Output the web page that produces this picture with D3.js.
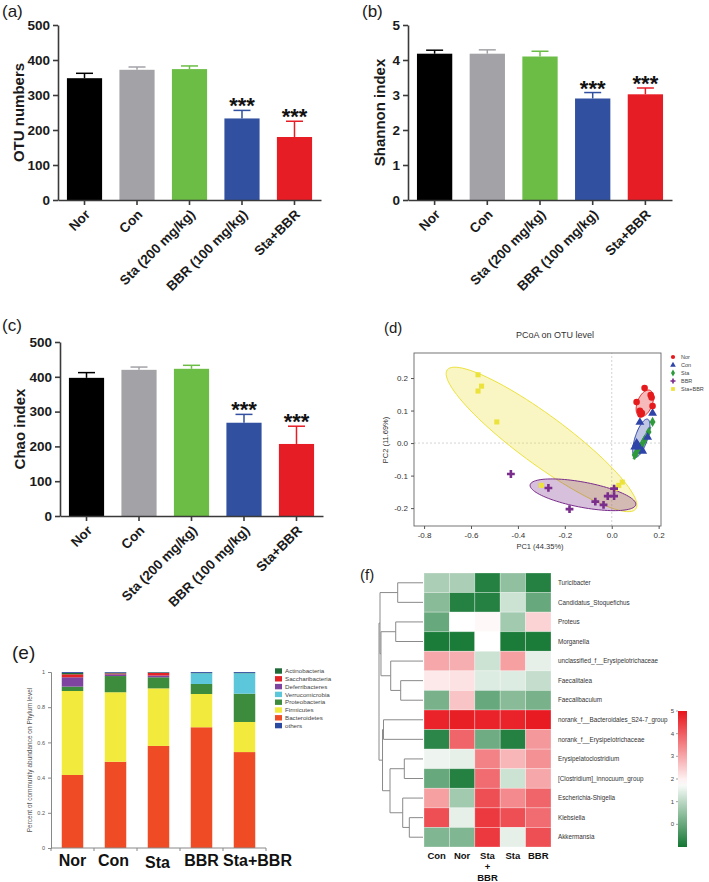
<!DOCTYPE html>
<html><head><meta charset="utf-8">
<script src="https://cdn.jsdelivr.net/npm/d3@7"></script>
<style>body{margin:0;background:#fff}svg{display:block}text{font-family:"Liberation Sans",Arial,sans-serif}</style>
</head><body><svg id="c" width="709" height="882"></svg>
<script>
// ---------- DATA ----------
const groups = ["Nor","Con","Sta (200 mg/kg)","BBR (100 mg/kg)","Sta+BBR"];
const barColors = ["#000000","#a3a2a7","#6cbd45","#3150a0","#e71d25"];
const otuMean = [348,372,374,233,180];
const otuErr = [14,8,9,23,45];
const shannonMean = [4.18,4.18,4.10,2.90,3.02];
const shannonErr = [0.10,0.11,0.15,0.17,0.18];
const chaoMean = [397,420,423,268,207];
const chaoErr = [15,8,10,24,51];
const sig = ["","","","***","***"];
const otuTicks = [0,100,200,300,400,500];
const shannonTicks = [0,1,2,3,4,5];
const chaoTicks = [0,100,200,300,400,500];

const pcoaGroups = ["Nor","Con","Sta","BBR","Sta+BBR"];
const pcoaColors = ["#e41a1c","#2f44a8","#2e9a3c","#7a2d8c","#ece23c"];
const pcoaNor = [[0.14,0.169],[0.166,0.148],[0.17,0.14],[0.106,0.126],[0.174,0.114],[0.12,0.099],[0.128,0.092],[0.123,0.088]];
const pcoaCon = [[0.174,0.092],[0.12,0.064],[0.153,0.018],[0.106,0.0],[0.115,-0.012],[0.132,-0.025],[0.098,-0.012],[0.11,-0.005]];
const pcoaSta = [[0.174,0.065],[0.157,0.034],[0.14,0.01],[0.128,-0.006],[0.11,-0.015],[0.098,-0.037],[0.12,-0.02],[0.105,-0.03]];
const pcoaBBR = [[-0.43,-0.095],[-0.27,-0.138],[-0.18,-0.203],[-0.07,-0.18],[-0.035,-0.19],[-0.017,-0.163],[0.01,-0.163],[0.01,-0.14]];
const pcoaStaBBR = [[-0.57,0.21],[-0.555,0.175],[-0.57,0.16],[-0.49,0.065],[-0.3,-0.13],[0.015,-0.14],[0.03,-0.13],[0.045,-0.12]];
const pcoaXTicks = [-0.8,-0.6,-0.4,-0.2,0.0,0.2];
const pcoaYTicks = [-0.2,-0.1,0.0,0.1,0.2];
const pcoaXLim = [-0.843,0.21];
const pcoaYLim = [-0.255,0.277];

const phylumGroups = ["Nor","Con","Sta","BBR","Sta+BBR"];
const bacteroidetes   = [0.415,0.490,0.580,0.686,0.545];
const firmicutes      = [0.477,0.395,0.327,0.189,0.171];
const proteobacteria  = [0.025,0.092,0.063,0.057,0.161];
const verrucomicrobia = [0.000,0.000,0.000,0.061,0.116];
const deferribacteres = [0.053,0.010,0.010,0.000,0.000];
const saccharibacteria= [0.017,0.005,0.015,0.000,0.000];
const actinobacteria  = [0.008,0.004,0.003,0.002,0.002];
const others          = [0.005,0.004,0.002,0.005,0.005];
const phylumTicks = [0,0.2,0.4,0.6,0.8,1];
const legendPhyla = ["Actinobacteria","Saccharibacteria","Deferribacteres","Verrucomicrobia","Proteobacteria","Firmicutes","Bacteroidetes","others"];

const heatCols = ["Con","Nor","Sta+BBR","Sta","BBR"];
const heatRows = ["Turicibacter","Candidatus_Stoquefichus","Proteus","Morganella","unclassified_f__Erysipelotrichaceae","Faecalitalea","Faecalibaculum","norank_f__Bacteroidales_S24-7_group","norank_f__Erysipelotrichaceae","Erysipelatoclostridium","[Clostridium]_innocuum_group","Escherichia-Shigella","Klebsiella","Akkermansia"];
const heatValues = [
  [0.8,0.8,-0.8,0.5,-0.8],
  [0.4,-0.8,-0.8,1.2,0.0],
  [0.0,1.8,1.9,0.7,2.4],
  [-0.9,-0.9,1.8,-0.9,-0.9],
  [3.0,2.9,1.2,3.1,1.5],
  [2.1,2.2,1.4,1.4,1.1],
  [0.2,2.6,0.0,0.4,0.2],
  [4.8,4.85,4.8,4.8,4.9],
  [-0.7,3.9,0.1,-0.8,3.2],
  [1.6,1.5,3.5,2.8,3.3],
  [0.0,-0.8,3.8,1.2,3.0],
  [3.1,0.7,4.2,3.4,3.9],
  [4.2,1.5,4.5,4.2,3.8],
  [0.3,0.3,4.5,1.5,4.2]
];
const heatTicks = [0,1,2,3,4,5];
// row dendrogram (leaf = row index, h = merge height)
const dendro = {h:1.0, children:[
  {h:0.977, children:[
    {h:0.575, children:[{leaf:0},{leaf:1}]},
    {h:0.955, children:[
      {h:0.62, children:[{leaf:2},{leaf:3}]},
      {h:0.734, children:[{leaf:4},{h:0.507, children:[{leaf:5},{leaf:6}]}]}
    ]}
  ]},
  {h:0.92, children:[
    {h:0.898, children:[{leaf:7},{leaf:8}]},
    {h:0.75, children:[
      {h:0.425, children:[{leaf:9},{leaf:10}]},
      {h:0.461, children:[{leaf:11},{h:0.311, children:[{leaf:12},{leaf:13}]}]}
    ]}
  ]}
]};

// ---------- DRAW ----------
const svg = d3.select("#c");
svg.append("rect").attr("width",709).attr("height",882).attr("fill","#fff");

function label(t,x,y,size){
  svg.append("text").attr("x",x).attr("y",y).attr("font-size",size).attr("fill","#1a1a1a").text(t);
}

function barPanel(o){
  const g = svg.append("g");
  const x = d3.scaleBand().domain(groups).range([o.x0,o.x1]).paddingInner(0.33).paddingOuter(0.17);
  const y = d3.scaleLinear().domain([0,o.max]).range([o.yZero,o.yTop]);
  const bw = x.bandwidth();
  groups.forEach((d,i)=>{
    const cx = x(d)+bw/2, top = y(o.means[i]+o.errs[i]);
    g.append("line").attr("x1",cx).attr("x2",cx).attr("y1",y(o.means[i])).attr("y2",top)
      .attr("stroke",barColors[i]).attr("stroke-width",1.5);
    g.append("line").attr("x1",cx-8.5).attr("x2",cx+8.5).attr("y1",top).attr("y2",top)
      .attr("stroke",barColors[i]).attr("stroke-width",1.5);
    if(sig[i]) g.append("text").attr("x",cx).attr("y",top+3).attr("text-anchor","middle")
      .attr("font-size",22).attr("font-weight","bold").attr("fill","#111").text(sig[i]);
  });
  g.selectAll("rect.b").data(groups).join("rect").attr("class","b")
    .attr("x",d=>x(d)).attr("width",bw)
    .attr("y",(d,i)=>y(o.means[i])).attr("height",(d,i)=>y(0)-y(o.means[i]))
    .attr("fill",(d,i)=>barColors[i]);
  const ya = g.append("g").attr("transform",`translate(${o.x0},0)`)
    .call(d3.axisLeft(y).tickValues(o.ticks).tickSize(5).tickSizeOuter(0).tickPadding(3).tickFormat(d3.format("d")));
  const xa = g.append("g").attr("transform",`translate(0,${o.yZero})`)
    .call(d3.axisBottom(x).tickSize(5).tickSizeOuter(0));
  [ya,xa].forEach(a=>{
    a.select(".domain").attr("stroke","#3a3a3a").attr("stroke-width",1.6);
    a.selectAll(".tick line").attr("stroke","#3a3a3a").attr("stroke-width",1.6);
    a.selectAll("text").attr("font-size",13.5).attr("font-weight","bold").attr("fill","#1a1a1a")
      .attr("font-family",'"Liberation Sans",Arial,sans-serif');
  });
  xa.selectAll(".tick text").attr("text-anchor","end").attr("x",0).attr("y",0).attr("dy","0.35em")
    .attr("transform","translate(3,12) rotate(-45)");
  g.append("text").attr("transform",`translate(${o.titleX},${(o.yZero+o.yTop)/2}) rotate(-90)`)
    .attr("text-anchor","middle").attr("font-size",15).attr("font-weight","bold").attr("fill","#1a1a1a").text(o.title);
}

label("(a)",2,17,17);
barPanel({x0:58,x1:321,yZero:200,yTop:25,max:500,ticks:otuTicks,means:otuMean,errs:otuErr,title:"OTU numbers",titleX:24});
label("(b)",362,17,17);
barPanel({x0:408,x1:672,yZero:200,yTop:25,max:5,ticks:shannonTicks,means:shannonMean,errs:shannonErr,title:"Shannon index",titleX:385});
label("(c)",2,331,17);
barPanel({x0:60,x1:323,yZero:516,yTop:342,max:500,ticks:chaoTicks,means:chaoMean,errs:chaoErr,title:"Chao index",titleX:25});

// ---------- (d) PCoA ----------
label("(d)",384,333,15);
(function(){
  const g = svg.append("g");
  const x = d3.scaleLinear().domain(pcoaXLim).range([414,661]);
  const y = d3.scaleLinear().domain(pcoaYLim).range([526,353]);
  g.append("line").attr("x1",x(0)).attr("x2",x(0)).attr("y1",y(pcoaYLim[0])).attr("y2",y(pcoaYLim[1]))
    .attr("stroke","#c8c8c8").attr("stroke-dasharray","2,2").attr("stroke-width",0.8);
  g.append("line").attr("y1",y(0)).attr("y2",y(0)).attr("x1",x(pcoaXLim[0])).attr("x2",x(pcoaXLim[1]))
    .attr("stroke","#c8c8c8").attr("stroke-dasharray","2,2").attr("stroke-width",0.8);
  const sets = [pcoaNor,pcoaCon,pcoaSta,pcoaBBR,pcoaStaBBR];
  const drawOrder = [4,3,2,1,0];
  const k = 1.42;
  drawOrder.forEach(i=>{
    const pts = sets[i], n = pts.length;
    const mx = d3.mean(pts,p=>p[0]), my = d3.mean(pts,p=>p[1]);
    let sxx=0,syy=0,sxy=0;
    pts.forEach(p=>{sxx+=(p[0]-mx)**2; syy+=(p[1]-my)**2; sxy+=(p[0]-mx)*(p[1]-my);});
    sxx/=n-1; syy/=n-1; sxy/=n-1;
    const tr=sxx+syy, det=sxx*syy-sxy*sxy, disc=Math.sqrt(tr*tr/4-det);
    const l1=tr/2+disc, l2=Math.max(tr/2-disc,0);
    let v1=[sxy, l1-sxx]; if(Math.abs(sxy)<1e-12) v1 = sxx>=syy?[1,0]:[0,1];
    const nv=Math.hypot(v1[0],v1[1]); v1=[v1[0]/nv,v1[1]/nv]; const v2=[-v1[1],v1[0]];
    const ring = d3.range(0,101).map(j=>{
      const t=j/100*2*Math.PI, a=k*Math.sqrt(l1)*Math.cos(t), b=k*Math.sqrt(l2)*Math.sin(t);
      return [x(mx+a*v1[0]+b*v2[0]), y(my+a*v1[1]+b*v2[1])];
    });
    g.append("path").attr("d",d3.line()(ring)+"Z").attr("fill",pcoaColors[i]).attr("fill-opacity",0.3)
      .attr("stroke",pcoaColors[i]).attr("stroke-width",1);
  });
  const syms = [d3.symbolCircle,d3.symbolTriangle,d3.symbolDiamond,d3.symbolCross,d3.symbolSquare];
  const sizes = [34,34,30,34,26];
  drawOrder.forEach(i=>{
    g.selectAll(null).data(sets[i]).join("path")
      .attr("transform",p=>`translate(${x(p[0])},${y(p[1])})`)
      .attr("d",d3.symbol(syms[i],sizes[i])).attr("fill",pcoaColors[i]);
  });
  g.append("rect").attr("x",414).attr("y",353).attr("width",247).attr("height",173)
    .attr("fill","none").attr("stroke","#666").attr("stroke-width",0.9);
  const xa = g.append("g").attr("transform","translate(0,526)").call(d3.axisBottom(x).tickValues(pcoaXTicks).tickSize(3).tickFormat(d3.format(".1f")));
  const ya = g.append("g").attr("transform","translate(414,0)").call(d3.axisLeft(y).tickValues(pcoaYTicks).tickSize(3).tickFormat(d3.format(".1f")));
  [xa,ya].forEach(a=>{
    a.select(".domain").remove();
    a.selectAll(".tick line").attr("stroke","#555");
    a.selectAll("text").attr("font-size",8).attr("fill","#333").attr("font-family",'"Liberation Sans",Arial,sans-serif');
  });
  xa.selectAll("text").text(d=>d3.format(".1f")(d).replace("−","-"));
  ya.selectAll("text").text(d=>d3.format(".1f")(d).replace("−","-"));
  svg.append("text").attr("x",540).attr("y",549).attr("text-anchor","middle").attr("font-size",7.5).attr("fill","#333").text("PC1 (44.35%)");
  svg.append("text").attr("transform","translate(388,440) rotate(-90)").attr("text-anchor","middle").attr("font-size",7.5).attr("fill","#333").text("PC2 (11.69%)");
  svg.append("text").attr("x",555).attr("y",338).attr("text-anchor","middle").attr("font-size",9).attr("fill","#333").text("PCoA on OTU level");
  pcoaGroups.forEach((gname,i)=>{
    const ly = 357+i*8;
    svg.append("path").attr("transform",`translate(673,${ly})`).attr("d",d3.symbol(syms[i],14)).attr("fill",pcoaColors[i]);
    svg.append("text").attr("x",681).attr("y",ly).attr("dy","0.35em").attr("font-size",5.5).attr("fill","#444").text(gname);
  });
})();

// ---------- (e) stacked bars ----------
label("(e)",12,659,19);
(function(){
  const g = svg.append("g");
  const keys = ["Bacteroidetes","Firmicutes","Proteobacteria","Verrucomicrobia","Deferribacteres","Saccharibacteria","Actinobacteria","others"];
  const arrs = [bacteroidetes,firmicutes,proteobacteria,verrucomicrobia,deferribacteres,saccharibacteria,actinobacteria,others];
  const colors = {Bacteroidetes:"#ef4b24",Firmicutes:"#f2ea3c",Proteobacteria:"#3d8c3d",Verrucomicrobia:"#5cc7da",
    Deferribacteres:"#7e44a0",Saccharibacteria:"#e52327",Actinobacteria:"#1f6a37",others:"#2b4aa2"};
  const rows = phylumGroups.map((gr,i)=>{const r={group:gr}; keys.forEach((k,j)=>r[k]=arrs[j][i]); return r;});
  const stack = d3.stack().keys(keys)(rows);
  const x = d3.scaleBand().domain(phylumGroups).range([51,266]).paddingInner(0.5).paddingOuter(0.25);
  const y = d3.scaleLinear().domain([0,1]).range([848,672]);
  stack.forEach(s=>{
    g.selectAll(null).data(s).join("rect").attr("x",d=>x(d.data.group)).attr("width",x.bandwidth())
      .attr("y",d=>y(d[1])).attr("height",d=>Math.max(0,y(d[0])-y(d[1]))).attr("fill",colors[s.key]);
  });
  const ya = g.append("g").attr("transform","translate(51,0)").call(d3.axisLeft(y).tickValues(phylumTicks).tickSize(3).tickFormat(d=>String(d)));
  ya.select(".domain").attr("stroke","#888");
  ya.selectAll(".tick line").attr("stroke","#888");
  ya.selectAll("text").attr("font-size",5.5).attr("fill","#555").attr("font-family",'"Liberation Sans",Arial,sans-serif');
  g.append("line").attr("x1",51).attr("x2",266).attr("y1",848).attr("y2",848).attr("stroke","#888");
  const step = x.step();
  d3.range(phylumGroups.length+1).forEach(i=>{
    const tx = 51 + i*step;
    g.append("line").attr("x1",tx).attr("x2",tx).attr("y1",848).attr("y2",851).attr("stroke","#888");
  });
  const lblShift = [0,-2,-1,0,13];
  phylumGroups.forEach((gr,i)=>{
    g.append("text").attr("x",x(gr)+x.bandwidth()/2+lblShift[i]).attr("y",i===2?868:866).attr("text-anchor","middle")
      .attr("font-size",16).attr("font-weight","bold").attr("fill","#111").text(gr);
  });
  g.append("text").attr("transform","translate(32,760) rotate(-90)").attr("text-anchor","middle")
    .attr("font-size",6.5).attr("fill","#555").text("Percent of community abundance on Phylum level");
  legendPhyla.forEach((p,i)=>{
    const ly = 671 + i*7.8;
    g.append("rect").attr("x",275).attr("y",ly-2.7).attr("width",7).attr("height",5.4).attr("fill",colors[p]);
    g.append("text").attr("x",285).attr("y",ly).attr("dy","0.35em").attr("font-size",6.2).attr("fill","#444").text(p);
  });
})();

// ---------- (f) heatmap ----------
label("(f)",360,580,15);
(function(){
  const g = svg.append("g");
  const x = d3.scaleBand().domain(heatCols).range([424,551]);
  const y = d3.scaleBand().domain(heatRows).range([573,847]);
  const color = d3.scaleLinear().domain([-1,1.8,5]).range(["#137733","#ffffff","#e8141b"]);
  heatRows.forEach((r,i)=>{
    heatCols.forEach((c,j)=>{
      g.append("rect").attr("x",x(c)).attr("y",y(r)).attr("width",x.bandwidth()).attr("height",y.bandwidth())
        .attr("fill",color(heatValues[i][j])).attr("stroke","#ffffff").attr("stroke-opacity",0.35).attr("stroke-width",0.8);
    });
    g.append("text").attr("x",558).attr("y",y(r)+y.bandwidth()/2).attr("dy","0.35em").attr("font-size",6.3).attr("fill","#333").text(r);
  });
  heatCols.forEach(c=>{
    const cx = x(c)+x.bandwidth()/2;
    const parts = c==="Sta+BBR" ? ["Sta","+","BBR"] : [c];
    parts.forEach((p,k)=>{
      g.append("text").attr("x",cx).attr("y",859+k*11).attr("text-anchor","middle").attr("font-size",9.5)
        .attr("font-weight","bold").attr("fill","#111").text(p);
    });
  });
  // dendrogram
  const root = d3.hierarchy(dendro);
  const hx = d3.scaleLinear().domain([0,1]).range([423,379]);
  root.eachAfter(n=>{
    if(n.data.leaf!==undefined){ n.py = y(heatRows[n.data.leaf])+y.bandwidth()/2; n.px = hx(0); }
    else { n.py = (n.children[0].py + n.children[n.children.length-1].py)/2; n.px = hx(n.data.h); }
  });
  const lines = [];
  root.each(n=>{
    if(!n.children) return;
    lines.push([[n.px,n.children[0].py],[n.px,n.children[n.children.length-1].py]]);
    n.children.forEach(ch=>lines.push([[n.px,ch.py],[ch.px,ch.py]]));
  });
  g.selectAll(null).data(lines).join("path").attr("d",d=>d3.line()(d)).attr("stroke","#8a8a8a").attr("stroke-width",1).attr("fill","none");
  // colour legend
  const ly = d3.scaleLinear().domain([-1,5]).range([847,711]);
  const defs = svg.append("defs");
  const grad = defs.append("linearGradient").attr("id","hg").attr("x1",0).attr("x2",0).attr("y1",1).attr("y2",0);
  d3.range(0,21).forEach(i=>{
    const v = -1 + i*6/20;
    grad.append("stop").attr("offset",i/20).attr("stop-color",color(v));
  });
  g.append("rect").attr("x",678).attr("y",711).attr("width",9).attr("height",136).attr("fill","url(#hg)");
  heatTicks.forEach(t=>{
    g.append("line").attr("x1",676).attr("x2",678).attr("y1",ly(t)).attr("y2",ly(t)).attr("stroke","#666").attr("stroke-width",0.6);
    g.append("text").attr("x",674).attr("y",ly(t)).attr("dy","0.35em").attr("text-anchor","end").attr("font-size",6).attr("fill","#444").text(t);
  });
})();
</script></body></html>
